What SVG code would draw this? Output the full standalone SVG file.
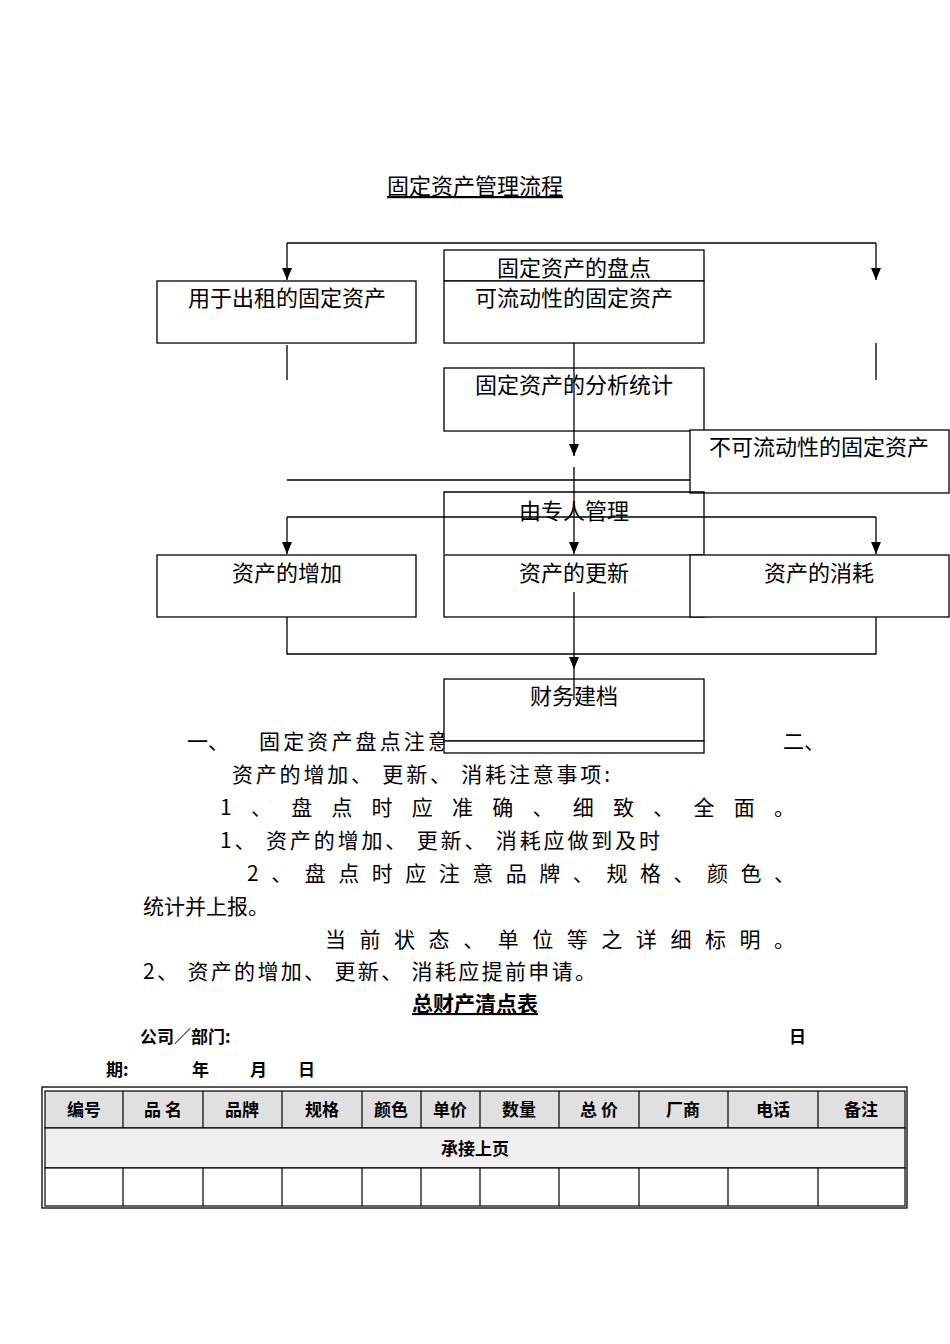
<svg xmlns="http://www.w3.org/2000/svg" width="950" height="1344" viewBox="0 0 950 1344">
<style>
text{font-family:"Noto Sans CJK SC","Liberation Sans",sans-serif;fill:#000}
.b{fill:#fff;stroke:#000;stroke-width:1.3}
.l{stroke:#000;stroke-width:1.3;fill:none}
.t{font-size:22px;text-anchor:middle}
.p{font-size:21px}
.h{font-size:17px;font-weight:bold;text-anchor:middle}
.g{stroke:#000;stroke-width:1.2}
</style>
<defs><marker id="d" viewBox="0 0 10 12" markerWidth="10" markerHeight="12" refX="5" refY="12" orient="0" markerUnits="userSpaceOnUse"><path d="M0,0 L10,0 L5,12 Z" fill="#000"/></marker></defs>
<text class="t" x="475" y="194" style="text-decoration:underline">固定资产管理流程</text>
<g id="n_pandian"><rect class="b" x="444" y="250" width="260" height="31"/><text class="t" x="574" y="276">固定资产的盘点</text></g>
<g id="n_chuzu"><rect class="b" x="157" y="281" width="259" height="62"/><text class="t" x="287" y="306">用于出租的固定资产</text></g>
<g id="n_liudong"><rect class="b" x="444" y="281" width="260" height="62"/><text class="t" x="574" y="306">可流动性的固定资产</text></g>
<g id="n_fenxi"><rect class="b" x="444" y="368" width="260" height="63"/><text class="t" x="574" y="393">固定资产的分析统计</text></g>
<g id="n_buliudong"><rect class="b" x="690" y="430" width="259" height="63"/><text class="t" x="819" y="455">不可流动性的固定资产</text></g>
<g id="n_zhuanren"><path class="l" d="M444,554 V492 H704 V554"/><text class="t" x="574" y="519">由专人管理</text></g>
<g id="n_zengjia"><rect class="b" x="157" y="555" width="259" height="62"/><text class="t" x="287" y="581">资产的增加</text></g>
<g id="n_gengxin"><rect class="b" x="444" y="555" width="260" height="62"/><text class="t" x="574" y="581">资产的更新</text></g>
<g id="n_xiaohao"><rect class="b" x="690" y="555" width="259" height="62"/><text class="t" x="819" y="581">资产的消耗</text></g>
<text class="p" x="187" y="749">一、</text>
<text class="p" x="259" y="749" textLength="190" lengthAdjust="spacing">固定资产盘点注意</text>
<g id="n_caiwu"><rect class="b" x="444" y="679" width="260" height="62"/><rect class="b" x="444" y="741" width="260" height="12"/><text class="t" x="574" y="704">财务建档</text></g>
<g id="connectors">
<path class="l" d="M287,243 H876"/>
<path class="l" d="M287,243 V280" marker-end="url(#d)"/>
<path class="l" d="M876,243 V280" marker-end="url(#d)"/>
<path class="l" d="M287,345 V380 M876,343 V380"/>
<path class="l" d="M574,343 V456" marker-end="url(#d)"/>
<path class="l" d="M287,480 H690"/>
<path class="l" d="M574,467 V554" marker-end="url(#d)"/>
<path class="l" d="M287,517 H876"/>
<path class="l" d="M287,517 V554" marker-end="url(#d)"/>
<path class="l" d="M876,517 V554" marker-end="url(#d)"/>
<path class="l" d="M287,617 V654 H876 V617"/>
<path class="l" d="M574,592 V669" marker-end="url(#d)"/>
<path class="l" d="M574,669 V700"/>
</g>
<text class="p" x="783" y="749">二、</text>
<text class="p" x="232" y="782" textLength="378" lengthAdjust="spacing">资产的增加、 更新、 消耗注意事项:</text>
<text class="p" x="220" y="815" textLength="575" lengthAdjust="spacing">1 、  盘 点 时 应 准 确 、  细 致 、  全 面 。</text>
<text class="p" x="220" y="848" textLength="440" lengthAdjust="spacing">1、 资产的增加、 更新、 消耗应做到及时</text>
<text class="p" x="247" y="881" textLength="548" lengthAdjust="spacing">2 、  盘 点 时 应 注 意 品 牌 、  规 格 、  颜 色 、</text>
<text class="p" x="143" y="914">统计并上报。</text>
<text class="p" x="325" y="947" textLength="470" lengthAdjust="spacing">当 前 状 态 、  单 位 等 之 详 细 标 明 。</text>
<text class="p" x="143" y="979" textLength="453" lengthAdjust="spacing">2、 资产的增加、 更新、 消耗应提前申请。</text>
<text class="t" x="475" y="1011" style="text-decoration:underline;font-weight:bold;font-size:21px">总财产清点表</text>
<text x="140" y="1043" style="font-size:17px;font-weight:bold">公司／部门:</text>
<text x="789" y="1043" style="font-size:17px;font-weight:bold">日</text>
<text x="106" y="1076" style="font-size:17px;font-weight:bold">期:</text>
<text x="192" y="1076" style="font-size:17px;font-weight:bold">年</text>
<text x="250" y="1076" style="font-size:17px;font-weight:bold">月</text>
<text x="298" y="1076" style="font-size:17px;font-weight:bold">日</text>
<g id="table">
<rect x="42" y="1087" width="865" height="121" fill="none" stroke="#000" stroke-width="1.3"/>
<rect x="45" y="1091" width="860" height="37" fill="#e0e0e0" class="g"/>
<rect x="45" y="1128" width="860" height="40" fill="#f0f0f0" class="g"/>
<rect x="45" y="1168" width="860" height="38" fill="#fff" class="g"/>
<path class="g" d="M123,1091V1128M203,1091V1128M282,1091V1128M362,1091V1128M421,1091V1128M480,1091V1128M559,1091V1128M639,1091V1128M728,1091V1128M818,1091V1128M123,1168V1206M203,1168V1206M282,1168V1206M362,1168V1206M421,1168V1206M480,1168V1206M559,1168V1206M639,1168V1206M728,1168V1206M818,1168V1206"/>
<text class="h" x="84" y="1116">编号</text>
<text class="h" x="163" y="1116">品 名</text>
<text class="h" x="242" y="1116">品牌</text>
<text class="h" x="322" y="1116">规格</text>
<text class="h" x="391" y="1116">颜色</text>
<text class="h" x="450" y="1116">单价</text>
<text class="h" x="519" y="1116">数量</text>
<text class="h" x="599" y="1116">总 价</text>
<text class="h" x="683" y="1116">厂商</text>
<text class="h" x="773" y="1116">电话</text>
<text class="h" x="861" y="1116">备注</text>
<text class="h" x="475" y="1155">承接上页</text>
</g>
</svg>
